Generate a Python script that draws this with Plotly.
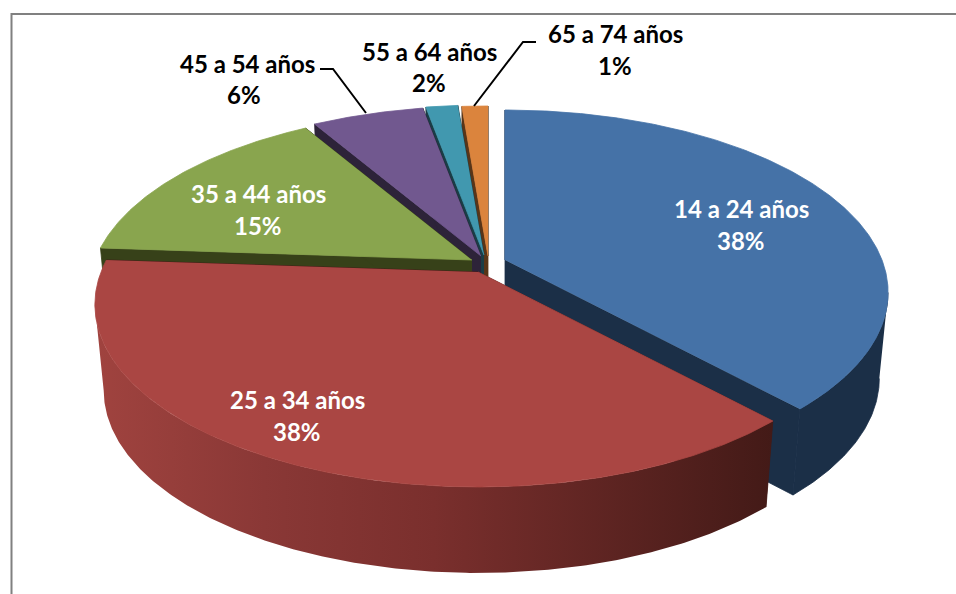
import numpy as np
import plotly.graph_objects as go

filename = "out.html"

# data
groups = ["14 a 24 años", "25 a 34 años", "35 a 44 años", "45 a 54 años", "55 a 64 años", "65 a 74 años"]
shares = [38.1, 38.0, 15.4, 5.6, 1.6, 1.3]
top_colors = ["#4572A7", "#AA4643", "#89A54E", "#71588F", "#4198AF", "#DB843D"]
wall_colors = ["#1B2F47", "#431A17", "#374119", "#2D2339", "#1A3D46", "#583518"]
# only the red slice shows a shaded outer wall
red_side = [[0, "#A0433F"], [0.25, "#8A3836"], [0.5, "#7A2F2D"], [1, "#431A17"]]

# where each slice's point ends up once it is pulled out of the pie (pixels)
apex_x = [505, 478, 472, 481, 484, 488]
apex_y = [260, 272, 260, 256, 255, 256]
label_x = [741, 297, 258, 247, 429, 615]
label_y = [208, 399, 193, 63, 51, 33]
percent_x = [741, 297, 258, 244, 429, 615]
percent_y = [240, 431, 225, 94, 82, 65]
text_colors = ["white", "white", "white", "black", "black", "black"]

RX = 377
RY = 176.7
PERSP = 0.178
DEPTH = 86
SHRINK = 0.977
# angle where the rim turns away from the viewer
TURN = np.degrees(np.arccos(-PERSP))


def rim(start, end, ax, ay):
    # perspective view of the pie's circle, angles clockwise from the top
    t = np.radians(np.linspace(start, end, max(int(end - start) * 2, 4)))
    w = 1 + PERSP * np.cos(t)
    return ax + RX * np.sin(t) / w, ay - RY * np.cos(t) / w


def lower(x, y, ax):
    return ax + (x - ax) * SHRINK, y + DEPTH


fig = go.Figure()


def poly(x, y, color=None, gradient=None):
    # thin line in the same colour hides the seams between neighbouring faces
    if gradient:
        kw = dict(fillgradient=dict(type="horizontal", colorscale=gradient), line=dict(width=0))
    else:
        kw = dict(fillcolor=color, line=dict(width=0.8, color=color))
    fig.add_trace(go.Scatter(x=list(x), y=list(y), mode="lines", fill="toself",
                             hoverinfo="skip", showlegend=False, **kw))


ends = np.cumsum(shares) / sum(shares) * 360
starts = np.concatenate([[0], ends[:-1]])

# back to front
for i in [5, 4, 3, 2, 0, 1]:
    ax, ay = apex_x[i], apex_y[i]
    x, y = rim(starts[i], ends[i], ax, ay)
    bx, by = lower(x, y, ax)
    # the two cut faces
    for k in [0, -1]:
        poly([ax, x[k], bx[k], ax], [ay, y[k], by[k], ay + DEPTH], wall_colors[i])
    # outer wall, only the part facing the viewer
    a0, a1 = max(starts[i], TURN), min(ends[i], 360 - TURN)
    if a1 > a0:
        wx, wy = rim(a0, a1, ax, ay)
        lx, ly = lower(wx, wy, ax)
        poly(np.concatenate([wx, lx[::-1]]), np.concatenate([wy, ly[::-1]]), wall_colors[i],
             gradient=red_side if i == 1 else None)
    poly(np.concatenate([[ax], x]), np.concatenate([[ay], y]), top_colors[i])

# leader lines
fig.add_trace(go.Scatter(x=[320, 333, 366], y=[69, 69, 113], mode="lines",
                         line=dict(color="black", width=2), hoverinfo="skip", showlegend=False))
fig.add_trace(go.Scatter(x=[536, 523, 474], y=[42, 42, 106], mode="lines",
                         line=dict(color="black", width=2), hoverinfo="skip", showlegend=False))

for i, name in enumerate(groups):
    fig.add_annotation(x=label_x[i], y=label_y[i], text="<b>%s</b>" % name, showarrow=False,
                       font=dict(family="Lato", size=24, color=text_colors[i]))
    fig.add_annotation(x=percent_x[i], y=percent_y[i], text="<b>%d%%</b>" % round(shares[i]), showarrow=False,
                       font=dict(family="Lato", size=24, color=text_colors[i]))

# chart frame, only left and top show in the crop
fig.add_trace(go.Scatter(x=[11.5, 11.5, 956], y=[594, 14, 14], mode="lines",
                         line=dict(color="#808080", width=2), hoverinfo="skip", showlegend=False))

fig.update_layout(width=956, height=594, margin=dict(l=0, r=0, t=0, b=0),
                  paper_bgcolor="white", plot_bgcolor="white", showlegend=False,
                  xaxis=dict(range=[0, 956], visible=False, fixedrange=True),
                  yaxis=dict(range=[594, 0], visible=False, fixedrange=True))

fig.write_html(filename, config=dict(displayModeBar=False),
               post_script="document.body.style.margin='0';document.body.style.overflow='hidden';")
